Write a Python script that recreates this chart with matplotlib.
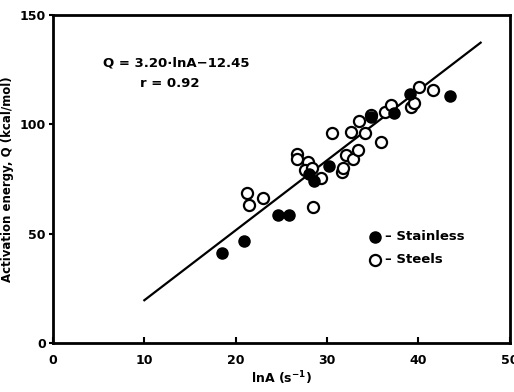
import numpy as np
import matplotlib.pyplot as plt

# stainless (filled)
stainless_x = [18.5, 20.9, 24.6, 25.8, 28.0, 28.6, 30.2, 34.8, 37.3, 39.1, 43.4]
stainless_y = [41.0, 46.7, 58.4, 58.4, 77.2, 74.0, 80.8, 103.2, 105.0, 113.7, 113.0]

# steels (open)
steels_x = [21.2, 21.5, 23.0, 28.5, 26.7, 26.7, 27.9, 27.6, 29.3, 28.3, 30.5,
            31.6, 31.7, 32.1, 32.8, 33.4, 32.6, 34.1, 33.5, 34.8, 35.9, 36.3,
            37.0, 39.2, 39.5, 40.1, 41.6]
steels_y = [68.8, 63.0, 66.1, 62.0, 86.3, 84.3, 82.8, 79.0, 75.5, 80.2, 95.8,
            78.2, 80.2, 85.8, 84.3, 88.4, 96.5, 96.2, 101.5, 104.1, 91.9, 105.6,
            108.7, 107.9, 109.5, 117.0, 115.5]

slope = 3.20
intercept = -12.45
fit_range = [10, 46.8]

plt.rcParams['font.family'] = 'DejaVu Sans'
plt.rcParams['font.weight'] = 'bold'

fig = plt.figure(figsize=(5.14, 3.92), dpi=100)
ax = fig.add_axes([0.103, 0.125, 0.889, 0.837])

x_fit = np.linspace(fit_range[0], fit_range[1], 50)
ax.plot(x_fit, slope * x_fit + intercept, 'k-', linewidth=1.6, zorder=1)

ax.scatter(steels_x, steels_y, s=64, facecolors='white', edgecolors='black',
           linewidths=1.6, zorder=2)
ax.scatter(stainless_x, stainless_y, s=64, color='black', zorder=3)

# legend drawn by hand like the original
ax.plot([35.2], [48.5], 'o', color='black', markersize=8)
ax.text(36.3, 48.5, '– Stainless', fontsize=9.5, va='center', fontweight='bold')
ax.plot([35.2], [38], 'o', mfc='white', mec='black', mew=1.6, markersize=8)
ax.text(36.3, 38, '– Steels', fontsize=9.5, va='center', fontweight='bold')

ax.text(5.5, 128, 'Q = 3.20·lnA−12.45', fontsize=9.5, va='center', fontweight='bold')
ax.text(9.5, 118.5, 'r = 0.92', fontsize=9.5, va='center', fontweight='bold')

ax.set_xlim(0, 50)
ax.set_ylim(0, 150)
ax.set_xticks([0, 10, 20, 30, 40, 50])
ax.set_yticks([0, 50, 100, 150])
ax.tick_params(axis='x', direction='in', length=4, width=1.5, labelsize=9, pad=8)
ax.tick_params(axis='y', direction='out', length=3, width=1.5, labelsize=9, pad=2)
for s in ax.spines.values():
    s.set_linewidth(2)

ax.set_xlabel('lnA (s$^{-1}$)', fontsize=9, fontweight='bold', labelpad=2)
ax.set_ylabel('Activation energy, Q (kcal/mol)', fontsize=8.5, fontweight='bold', labelpad=4)

fig.savefig('out.png', dpi=100)
